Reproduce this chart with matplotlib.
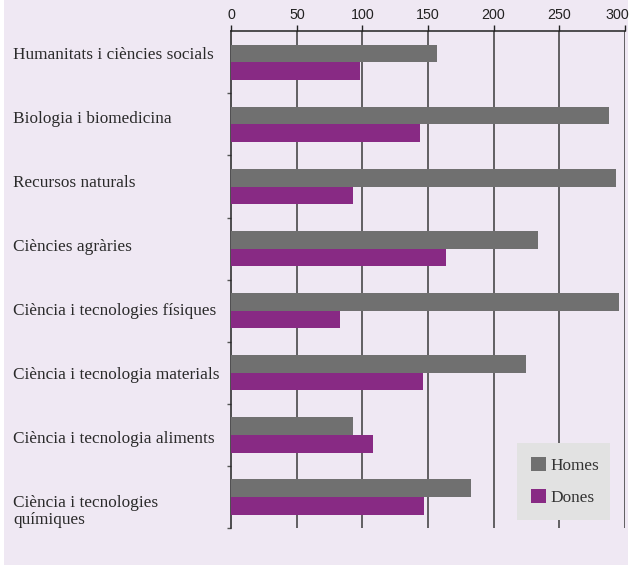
import matplotlib
matplotlib.use("Agg")
import matplotlib.pyplot as plt
import matplotlib.transforms as mtransforms
from matplotlib.patches import Rectangle, Patch

categories = [
    "Humanitats i ciències socials",
    "Biologia i biomedicina",
    "Recursos naturals",
    "Ciències agràries",
    "Ciència i tecnologies físiques",
    "Ciència i tecnologia materials",
    "Ciència i tecnologia aliments",
    "Ciència i tecnologies\nquímiques",
]
homes = [157, 288, 293, 234, 296, 225, 93, 183]
dones = [98, 144, 93, 164, 83, 146, 108, 147]
xticks = [0, 50, 100, 150, 200, 250, 300]
series_names = ["Homes", "Dones"]

BG = "#efe8f3"
GRAY = "#707070"
PURPLE = "#882a84"

W, H = 630, 565
fig = plt.figure(figsize=(W / 100, H / 100), dpi=100)
fig.patch.set_facecolor("white")
fig.patches.append(Rectangle((4 / W, 0), (W - 6) / W, 1, transform=fig.transFigure,
                             facecolor=BG, edgecolor="none", zorder=-10))

ax = fig.add_axes([231.3 / W, 1 - 528 / H, (624.7 - 231.3) / W, (528 - 31.3) / H])
ax.patch.set_alpha(0)

n = len(categories)
ys = list(range(n))
bh = 0.285
ax.barh([y - bh / 2 for y in ys], homes, height=bh, color=GRAY, zorder=3)
ax.barh([y + bh / 2 for y in ys], dones, height=bh, color=PURPLE, zorder=3)

ax.set_xlim(0, 300)
ax.set_ylim(n - 0.5, -0.5)

ax.xaxis.tick_top()
ax.set_xticks(xticks)
ax.set_xticklabels([str(t) for t in xticks], fontfamily="Liberation Sans", fontsize=10.3, color="#222222")
ax.tick_params(axis="x", length=4, width=1, color="#222222", pad=2.5)
lbls = ax.get_xticklabels()
lbls[-1].set_transform(lbls[-1].get_transform() +
                       mtransforms.ScaledTranslation(-7 / 100, 0, fig.dpi_scale_trans))
for t in xticks[1:]:
    ax.axvline(t, color="#3a3a3a", lw=1.1, zorder=1)

ax.set_yticks([y + 0.5 for y in ys])
ax.set_yticklabels([])
ax.tick_params(axis="y", length=3, width=1, color="#555555")

for s in ["right", "bottom"]:
    ax.spines[s].set_visible(False)
for s in ["top", "left"]:
    ax.spines[s].set_color("#222222")
    ax.spines[s].set_linewidth(1.1)

blend = mtransforms.blended_transform_factory(fig.transFigure, ax.transData)
for y, lab in zip(ys, categories):
    ypos = 7.23 if "\n" in lab else y * 1.032 - 0.123
    ax.text(13 / W, ypos, lab, transform=blend,
            ha="left", va="center", fontfamily="Liberation Serif", fontsize=12.4, color="#2a2a2a",
            linespacing=1.12)

handles = [Patch(facecolor=GRAY, edgecolor="none"), Patch(facecolor=PURPLE, edgecolor="none")]
leg = fig.legend(handles, series_names, loc="lower left",
                 bbox_to_anchor=(517 / W, 1 - 520 / H, (610 - 517) / W, (520 - 443) / H),
                 mode="expand", frameon=True, fancybox=False, borderaxespad=0,
                 prop={"family": "Liberation Serif", "size": 12.4},
                 handlelength=0.82, handleheight=0.87, handletextpad=0.3,
                 labelspacing=0.85, borderpad=0.84)
leg.get_frame().set_facecolor("#e2e2e2")
leg.get_frame().set_edgecolor("none")
leg.get_frame().set_alpha(1)
for t in leg.get_texts():
    t.set_color("#333333")

fig.savefig("out.png", dpi=100, facecolor=fig.get_facecolor())
